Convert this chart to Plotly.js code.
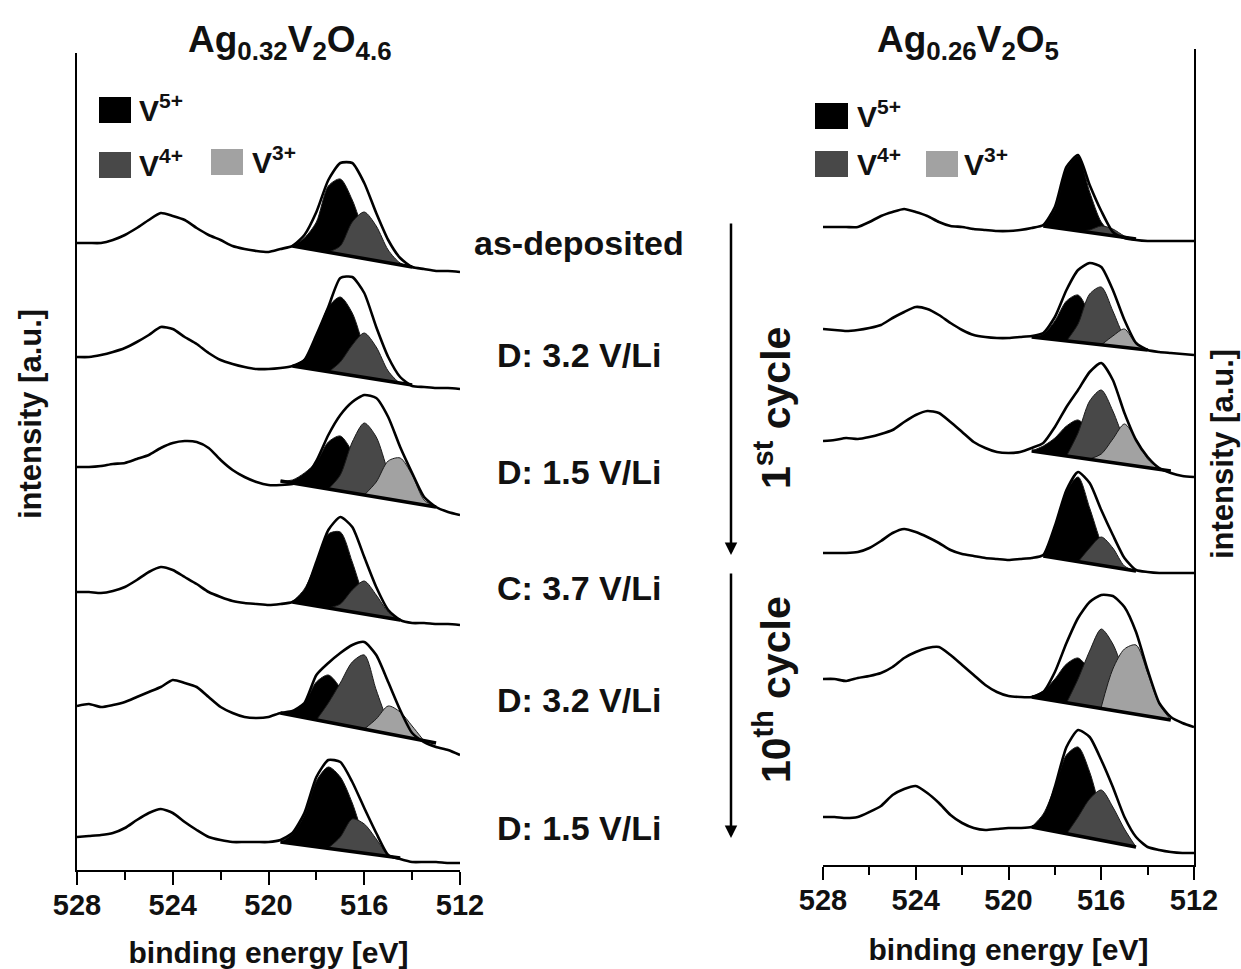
<!DOCTYPE html>
<html><head><meta charset="utf-8">
<script src="https://cdn.plot.ly/plotly-3.0.1.min.js"></script>
<style>html,body{margin:0;padding:0;background:#fff}#chart{width:1241px;height:969px}</style>
</head><body><div id="chart"></div>
<script>
// ---------- DATA ----------
const energy = [528,527.5,527,526.5,526,525.5,525,524.5,524,523.5,523,522.5,522,521.5,521,520.5,520,519.5,519,518.5,518,517.5,517,516.5,516,515.5,515,514.5,514,513.5,513,512.5,512];

const stepLabels = ["as-deposited","D: 3.2 V/Li","D: 1.5 V/Li","C: 3.7 V/Li","D: 3.2 V/Li","D: 1.5 V/Li"];
const panelTitles = ["Ag<sub>0.32</sub>V<sub>2</sub>O<sub>4.6</sub>","Ag<sub>0.26</sub>V<sub>2</sub>O<sub>5</sub>"];
const speciesNames = ["V<sup>5+</sup>","V<sup>4+</sup>","V<sup>3+</sup>"];

// vertical offsets of the stacked spectra (a.u.)
const leftOffsets  = [627,513,403,278,164,33];
const rightOffsets = [638,536,424,312,186,48];

// measured envelopes (a.u., relative to each offset)
const leftEnvelopes = [
 [0,0,0,3,8,15,23,30,27,23,15,8,3,-3,-6,-8,-9,-6,-3,8,31,63,80,80,60,30,3,-15,-24,-26,-28,-28,-29],
 [0,0,2,5,9,15,22,30,28,20,13,4,-3,-7,-10,-12,-12,-11,-9,-3,22,50,79,80,64,30,0,-20,-29,-30,-31,-31,-32],
 [0,0,1,3,4,8,12,19,24,26,25,19,7,-3,-10,-15,-18,-18,-17,-12,6,32,52,65,72,69,50,20,-6,-30,-40,-45,-48],
 [0,0,-1,1,5,12,20,25,22,15,8,0,-5,-9,-11,-12,-13,-12,-10,-1,30,62,75,65,35,5,-18,-28,-31,-31,-32,-32,-33],
 [0,2,-1,1,4,9,14,19,26,23,19,9,-1,-7,-11,-12,-11,-7,-5,3,31,43,53,61,64,51,24,-4,-27,-36,-41,-44,-49],
 [0,1,2,4,9,17,24,28,24,15,7,0,-3,-5,-5,-5,-5,-3,4,24,60,77,75,55,29,4,-18,-22,-25,-25,-25,-26,-26]
];
const rightEnvelopes = [
 [0,0,0,0,5,11,15,18,15,11,5,1,0,-2,-3,-4,-4,-3,-1,2,20,60,72,42,16,-5,-11,-13,-14,-14,-14,-14,-14],
 [0,-1,-2,-1,1,4,11,17,22,20,14,6,-1,-6,-8,-9,-9,-8,-7,-4,12,39,59,66,62,39,9,-14,-21,-23,-24,-25,-26],
 [0,1,3,2,4,7,11,19,26,30,28,19,9,-1,-7,-11,-12,-11,-7,-2,14,34,51,69,78,61,28,1,-16,-27,-32,-35,-36],
 [0,0,0,1,5,12,20,24,21,16,10,3,-1,-3,-5,-6,-7,-6,-5,-2,27,63,81,70,43,18,-5,-17,-19,-20,-20,-20,-20],
 [0,0,-2,1,3,6,12,21,27,31,32,24,14,4,-6,-13,-17,-18,-18,-13,7,36,61,77,84,83,72,47,9,-24,-38,-44,-48],
 [0,0,-1,0,5,11,22,28,31,24,14,2,-6,-11,-13,-12,-11,-11,-10,-3,30,70,87,80,57,30,0,-20,-30,-33,-35,-36,-36]
];

// fitted components: energies and heights (a.u., relative to offset); null = absent
const leftV5E = [[519,518.5,518,517.5,517,516.5,516,515.5,515],[519,518.5,518,517.5,517,516.5,516,515.5,515],[519.5,519,518.5,518,517.5,517,516.5,516,515.5],[519,518.5,518,517.5,517,516.5,516,515.5],[519.5,519,518.5,518,517.5,517,516.5,516],[519.5,519,518.5,518,517.5,517,516.5,516,515.5]];
const leftV5H = [[-3,5,21,57,64,43,11,-8,-20],[-9,-2,20,50,60,44,10,-12,-24],[-14,-13,-6,5,25,31,15,-10,-30],[-10,3,29,58,60,30,-5,-24],[-7,-5,3,24,31,18,-5,-23],[-5,3,22,56,70,60,34,0,-18]];
const leftV4E = [[517.5,517,516.5,516,515.5,515,514.5,514],[517.5,517,516.5,516,515.5,515,514.5,514],[517.5,517,516.5,516,515.5,515,514.5],[517.5,517,516.5,516,515.5,515,514.5],[518,517.5,517,516.5,516,515.5,515,514.5],[517.5,517,516.5,516,515.5,515,514.5]];
const leftV4H = [[-9,-3,21,31,17,-7,-20,-24],[-15,-5,12,24,10,-14,-26,-28],[-22,-8,25,44,30,-5,-34],[-16,-12,2,11,-3,-20,-28],[-14,3,23,44,51,16,-15,-30],[-11,0,18,13,-2,-18,-21]];
const leftV3E = [null,null,[516,515.5,515,514.5,514,513.5,513],null,[516,515.5,515,514.5,514,513.5],null];
const leftV3H = [null,null,[-28,-15,6,9,-8,-33,-40],null,[-23,-13,0,-6,-20,-35],null];
const leftBgE = [[519,514],[519,514],[519.5,513],[519,514.5],[519.5,513],[519.5,514.5]];
const leftBgH = [[-3,-24],[-9,-28],[-14,-40],[-10,-28],[-7,-37],[-5,-21]];

const rightV5E = [[518.5,518,517.5,517,516.5,516,515.5,515],[519,518.5,518,517.5,517,516.5,516,515.5],[519,518.5,518,517.5,517,516.5,516,515.5],[518.5,518,517.5,517,516.5,516,515.5],[519,518.5,518,517.5,517,516.5,516,515.5],[519,518.5,518,517.5,517,516.5,516,515.5]];
const rightV5H = [[1,18,58,71,35,5,-7,-11],[-8,-5,8,28,34,15,-5,-17],[-10,-5,3,15,21,10,-5,-22],[-3,25,62,76,45,10,-14],[-18,-12,0,15,21,8,-14,-31],[-10,3,30,62,70,45,5,-25]];
const rightV4E = [[517,516.5,516,515.5,515,514.5],[517.5,517,516.5,516,515.5,515,514.5],[517.5,517,516.5,516,515.5,515,514.5],[517,516.5,516,515.5,515,514.5],[517.5,517,516.5,516,515.5,515,514.5,514],[517.5,517,516.5,516,515.5,515,514.5]];
const rightV4H = [[-4,-3,1,-2,-9,-12],[-12,5,35,42,18,-8,-20],[-15,8,40,51,30,0,-25],[-9,5,16,5,-13,-18],[-24,0,28,50,35,5,-25,-37],[-17,0,18,27,10,-12,-30]];
const rightV3E = [null,[516,515.5,515,514.5,514],[516.5,516,515.5,515,514.5,514,513.5],null,[516,515.5,515,514.5,514,513.5,513],null];
const rightV3H = [null,[-16,-7,0,-15,-21],[-18,-13,2,17,2,-18,-28],null,[-28,10,30,34,6,-25,-41],null];
const rightBgE = [[518.5,514.5],[519,514],[519,513],[518.5,514.5],[519,513],[519,514.5]];
const rightBgH = [[1,-12],[-8,-21],[-10,-30],[-3,-18],[-18,-41],[-10,-30]];

// ---------- STYLE ----------
const colV5 = '#000000', colV4 = '#484848', colV3 = '#a2a2a2';
const FONT = 'Liberation Sans, Arial, sans-serif';
const W = 1241, H = 969;
const X = p => p / W, Y = p => 1 - p / H;

const traces = [];
function comp(E, h, off, col, xa, ya) {
  if (!E) return;
  traces.push({type:'scatter', mode:'lines', x:E, y:h.map(v => v + off), xaxis:xa, yaxis:ya,
    fill:'toself', fillcolor:col, line:{color:'#1a1a1a', width:1, shape:'spline', smoothing:0.8},
    hoverinfo:'skip', showlegend:false});
}
function spectrum(i, side) {
  const L = side === 'left';
  const xa = L ? 'x' : 'x2', ya = L ? 'y' : 'y2';
  const off = (L ? leftOffsets : rightOffsets)[i];
  comp((L?leftV5E:rightV5E)[i], (L?leftV5H:rightV5H)[i], off, colV5, xa, ya);
  comp((L?leftV4E:rightV4E)[i], (L?leftV4H:rightV4H)[i], off, colV4, xa, ya);
  comp((L?leftV3E:rightV3E)[i], (L?leftV3H:rightV3H)[i], off, colV3, xa, ya);
  traces.push({type:'scatter', mode:'lines', x:(L?leftBgE:rightBgE)[i], y:(L?leftBgH:rightBgH)[i].map(v=>v+off),
    xaxis:xa, yaxis:ya, line:{color:'#000', width:3.5}, hoverinfo:'skip', showlegend:false});
  traces.push({type:'scatter', mode:'lines', x:energy, y:(L?leftEnvelopes:rightEnvelopes)[i].map(v=>v+off),
    xaxis:xa, yaxis:ya, line:{color:'#000', width:2.6, shape:'spline', smoothing:0.6},
    hoverinfo:'skip', showlegend:false});
}
for (let i = 0; i < 6; i++) { spectrum(i, 'left'); spectrum(i, 'right'); }

const xcommon = {
  range:[528,512], tick0:512, dtick:4, ticks:'outside', ticklen:13, tickwidth:2, tickcolor:'#000',
  minor:{dtick:2, ticks:'outside', ticklen:8, tickwidth:2, tickcolor:'#000'},
  showline:true, linewidth:2, linecolor:'#000', showgrid:false, zeroline:false,
  ticklabelstandoff:-5,
  tickfont:{family:FONT, size:29, color:'#111', weight:'bold'},
  title:{text:'binding energy [eV]', font:{family:FONT, size:30, color:'#111', weight:'bold'}, standoff:24}
};
const ycommon = {showline:true, linewidth:2, linecolor:'#000', showgrid:false, zeroline:false,
  ticks:'', showticklabels:false};

const bold = (s, size, extra) => Object.assign({text:s, showarrow:false, xref:'paper', yref:'paper',
  xanchor:'center', yanchor:'middle',
  font:{family:FONT, size:size, color:'#111', weight:'bold'}}, extra);

const annotations = [
  bold(panelTitles[0], 37, {x:X(290), y:Y(42)}),
  bold(panelTitles[1], 37, {x:X(968), y:Y(42)}),
  bold(speciesNames[0], 30, {x:X(137), y:Y(108), xanchor:'left'}),
  bold(speciesNames[1], 30, {x:X(137), y:Y(163), xanchor:'left'}),
  bold(speciesNames[2], 30, {x:X(250), y:Y(160), xanchor:'left'}),
  bold(speciesNames[0], 30, {x:X(855), y:Y(114), xanchor:'left'}),
  bold(speciesNames[1], 30, {x:X(855), y:Y(162), xanchor:'left'}),
  bold(speciesNames[2], 30, {x:X(962), y:Y(162), xanchor:'left'}),
  bold('intensity [a.u.]', 31, {x:X(30), y:Y(414), textangle:-90}),
  bold('intensity [a.u.]', 31, {x:X(1222), y:Y(454), textangle:-90}),
  bold('1<sup>st</sup> cycle', 41, {x:X(773), y:Y(408), textangle:-90}),
  bold('10<sup>th</sup> cycle', 41, {x:X(773), y:Y(690), textangle:-90}),
  {x:X(731), y:Y(555), ax:0, ay:-333, text:'', showarrow:true, arrowhead:2, arrowsize:1, arrowwidth:2.5, arrowcolor:'#000', xref:'paper', yref:'paper'},
  {x:X(731), y:Y(838), ax:0, ay:-266, text:'', showarrow:true, arrowhead:2, arrowsize:1, arrowwidth:2.5, arrowcolor:'#000', xref:'paper', yref:'paper'}
];
const labelY = [243, 355, 472, 588, 700, 828];
stepLabels.forEach((t, i) => annotations.push(bold(t, 34, {x:X(579), y:Y(labelY[i])})));

const sq = (x0, y0, x1, y1, c) => ({type:'rect', xref:'paper', yref:'paper', x0:X(x0), x1:X(x1), y0:Y(y1), y1:Y(y0), fillcolor:c, line:{width:0}});
const shapes = [
  sq(99,97,131,123,colV5), sq(99,152,131,178,colV4), sq(211,149,243,175,colV3),
  sq(815,103,848,129,colV5), sq(815,151,848,177,colV4), sq(926,151,958,177,colV3)
];

const layout = {
  width:W, height:H, margin:{l:0, r:0, t:0, b:0}, paper_bgcolor:'#fff', plot_bgcolor:'rgba(0,0,0,0)',
  showlegend:false,
  xaxis:Object.assign({}, xcommon, {domain:[X(77), X(460)], anchor:'y'}),
  yaxis:Object.assign({}, ycommon, {domain:[Y(870), Y(53)], range:[0,817], anchor:'x'}),
  xaxis2:Object.assign({}, xcommon, {domain:[X(823), X(1194)], anchor:'y2'}),
  yaxis2:Object.assign({}, ycommon, {domain:[Y(865), Y(49)], range:[0,816], anchor:'x2', side:'right'}),
  annotations:annotations, shapes:shapes
};
Plotly.newPlot('chart', traces, layout, {displayModeBar:false, staticPlot:true});
</script></body></html>
